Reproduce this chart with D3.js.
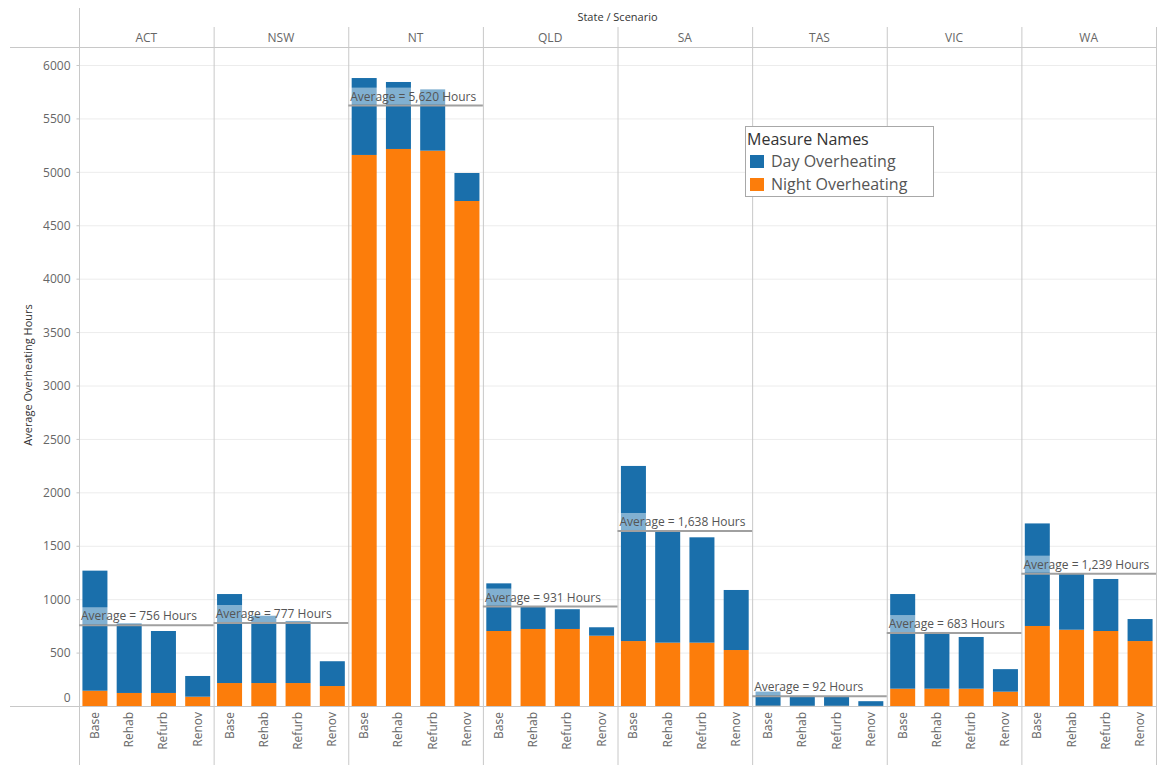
<!DOCTYPE html>
<html>
<head>
<meta charset="utf-8">
<script src="https://cdn.jsdelivr.net/npm/d3@7"></script>
<style>
  body { margin: 0; background: #fff; }
  svg { font-family: "Open Sans", "Noto Sans", sans-serif; }
</style>
</head>
<body>
<svg id="chart" width="1169" height="778"></svg>
<script>
// categories
var states = ["ACT", "NSW", "NT", "QLD", "SA", "TAS", "VIC", "WA"];
var scenarios = ["Base", "Rehab", "Refurb", "Renov"];
var yTicks = [0, 500, 1000, 1500, 2000, 2500, 3000, 3500, 4000, 4500, 5000, 5500, 6000];

// hours, one row per state, one value per scenario
var nightOverheating = [
  [143, 122, 122, 87],
  [215, 215, 215, 187],
  [5158, 5214, 5198, 4727],
  [702, 721, 721, 658],
  [608, 593, 593, 524],
  [3, 2, 2, 1],
  [162, 162, 162, 134],
  [749, 714, 702, 608]
];
var dayOverheating = [
  [1124, 652, 580, 194],
  [833, 630, 581, 232],
  [720, 627, 574, 262],
  [446, 212, 185, 79],
  [1639, 1048, 986, 562],
  [132, 93, 91, 44],
  [886, 531, 484, 211],
  [960, 530, 487, 206]
];

var dayColor = "#1a6fab", nightColor = "#fc7d0b";

var svg = d3.select("#chart");

var xState = d3.scaleBand().domain(states).range([79, 1156]);
var xScen = d3.scaleBand().domain(scenarios).range([0, xState.bandwidth()])
    .paddingInner(0.27).paddingOuter(0.1);
var y = d3.scaleLinear().domain([0, 6000]).range([706, 65]);

// gridlines
svg.append("g").selectAll("line")
  .data(yTicks.filter(function(d) { return d > 0; }))
  .enter().append("line")
    .attr("x1", 79).attr("x2", 1156)
    .attr("y1", function(d) { return y(d) + 0.5; })
    .attr("y2", function(d) { return y(d) + 0.5; })
    .attr("stroke", "#ececec");

// header
svg.append("text")
  .attr("x", (79 + 1156) / 2).attr("y", 21)
  .attr("text-anchor", "middle")
  .attr("font-size", 11).attr("fill", "#333")
  .text("State / Scenario");

svg.append("g").selectAll("text")
  .data(states)
  .enter().append("text")
    .attr("x", function(d) { return xState(d) + xState.bandwidth() / 2; })
    .attr("y", 42)
    .attr("text-anchor", "middle")
    .attr("font-size", 12).attr("fill", "#666")
    .text(String);

// frame lines
svg.append("line").attr("x1", 10).attr("x2", 1156).attr("y1", 47.5).attr("y2", 47.5).attr("stroke", "#c8c8c8");
svg.append("line").attr("x1", 79.5).attr("x2", 79.5).attr("y1", 8).attr("y2", 765).attr("stroke", "#c8c8c8");
svg.append("g").selectAll("line")
  .data(states.slice(1).concat(["end"]))
  .enter().append("line")
    .attr("x1", function(d) { return (d === "end" ? 1156 : xState(d)) + 0.5; })
    .attr("x2", function(d) { return (d === "end" ? 1156 : xState(d)) + 0.5; })
    .attr("y1", 27).attr("y2", 765)
    .attr("stroke", "#c8c8c8");

// y axis
var yAxis = svg.append("g")
  .attr("transform", "translate(79.5,0)")
  .call(d3.axisLeft(y).tickValues(yTicks).tickSize(3).tickPadding(6).tickFormat(d3.format("d")));
yAxis.select(".domain").remove();
yAxis.selectAll(".tick line").attr("stroke", "#c8c8c8");
yAxis.selectAll(".tick text")
  .attr("font-size", 12).attr("fill", "#666")
  .attr("font-family", "\"Open Sans\", \"Noto Sans\", sans-serif")
  .attr("dy", function(d) { return d === 0 ? "-0.35em" : "0.35em"; });

svg.append("text")
  .attr("transform", "translate(32,375) rotate(-90)")
  .attr("text-anchor", "middle")
  .attr("font-size", 11).attr("fill", "#333")
  .text("Average Overheating Hours");

// stacked bars per state panel
var stack = d3.stack().keys(["night", "day"]);

states.forEach(function(state, si) {
  var rows = scenarios.map(function(sc, i) {
    return { scenario: sc, night: nightOverheating[si][i], day: dayOverheating[si][i] };
  });
  var panel = svg.append("g").attr("transform", "translate(" + xState(state) + ",0)");

  panel.selectAll("g.layer")
    .data(stack(rows))
    .enter().append("g")
      .attr("class", "layer")
      .attr("fill", function(d) { return d.key === "day" ? dayColor : nightColor; })
    .selectAll("rect")
    .data(function(d) { return d; })
    .enter().append("rect")
      .attr("x", function(d) { return xScen(d.data.scenario); })
      .attr("width", xScen.bandwidth())
      .attr("y", function(d) { return y(d[1]); })
      .attr("height", function(d) { return y(d[0]) - y(d[1]); });

  // average reference line
  var avg = d3.mean(rows, function(r) { return r.night + r.day; });
  var ly = y(avg);
  var label = panel.append("text")
    .attr("x", 2).attr("y", ly - 5)
    .attr("font-size", 12).attr("fill", "#555")
    .text("Average = " + d3.format(",.0f")(avg) + " Hours");
  var w = label.node().getComputedTextLength();
  panel.insert("rect", "text")
    .attr("x", 1).attr("y", ly - 18)
    .attr("width", w + 2).attr("height", 17)
    .attr("fill", "#fff").attr("fill-opacity", 0.45);
  panel.append("line")
    .attr("x1", 0).attr("x2", xState.bandwidth())
    .attr("y1", ly).attr("y2", ly)
    .attr("stroke", "#a0a0a0").attr("stroke-width", 2);

  // scenario labels
  panel.selectAll("text.scen")
    .data(scenarios)
    .enter().append("text")
      .attr("class", "scen")
      .attr("transform", function(d) {
        return "translate(" + (xScen(d) + xScen.bandwidth() / 2 + 4) + ",712) rotate(-90)";
      })
      .attr("text-anchor", "end")
      .attr("font-size", 12).attr("fill", "#666")
      .text(String);
});

// x baseline
svg.append("line").attr("x1", 10).attr("x2", 1156).attr("y1", 706.5).attr("y2", 706.5).attr("stroke", "#c8c8c8");

// legend
var legend = svg.append("g").attr("transform", "translate(745,126)");
legend.append("rect")
  .attr("x", 0.5).attr("y", 0.5).attr("width", 188).attr("height", 70)
  .attr("fill", "#fff").attr("stroke", "#a8a8a8");
legend.append("text")
  .attr("x", 2).attr("y", 19)
  .attr("font-size", 16).attr("fill", "#333")
  .text("Measure Names");
var legendItems = [["Day Overheating", dayColor], ["Night Overheating", nightColor]];
legend.selectAll("g.item")
  .data(legendItems)
  .enter().append("g")
    .attr("class", "item")
    .attr("transform", function(d, i) { return "translate(5," + (29 + i * 23) + ")"; })
    .each(function(d) {
      var g = d3.select(this);
      g.append("rect").attr("width", 14).attr("height", 13).attr("fill", d[1]);
      g.append("text").attr("x", 21).attr("y", 12)
        .attr("font-size", 16).attr("fill", "#555").text(d[0]);
    });
</script>
</body>
</html>
